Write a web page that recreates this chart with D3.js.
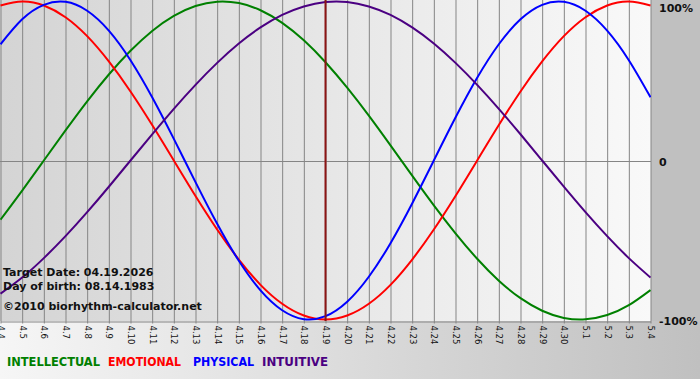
<!DOCTYPE html>
<html>
<head>
<meta charset="utf-8">
<script src="https://cdn.jsdelivr.net/npm/d3@7"></script>
<style>
  html, body { margin: 0; padding: 0; background: #fff; }
  svg { display: block; }
</style>
</head>
<body>
<div id="chart"></div>
<script>
// days shown on the x axis (4.4 .. 5.4)
const dayLabels = ['4.4', '4.5', '4.6', '4.7', '4.8', '4.9', '4.10', '4.11', '4.12', '4.13', '4.14',
  '4.15', '4.16', '4.17', '4.18', '4.19', '4.20', '4.21', '4.22', '4.23', '4.24', '4.25', '4.26',
  '4.27', '4.28', '4.29', '4.30', '5.1', '5.2', '5.3', '5.4'];

// daily values, one per day label
const intellectual = [-0.372, -0.189, 0.000, 0.189, 0.372, 0.541, 0.690, 0.815, 0.910, 0.972, 0.999,
  0.990, 0.945, 0.866, 0.756, 0.618, 0.458, 0.282, 0.095, -0.095, -0.282, -0.458, -0.618, -0.756,
  -0.866, -0.945, -0.990, -0.999, -0.972, -0.910, -0.815];
const emotional = [0.975, 1.000, 0.975, 0.901, 0.782, 0.623, 0.434, 0.223, 0.000, -0.223, -0.434,
  -0.623, -0.782, -0.901, -0.975, -1.000, -0.975, -0.901, -0.782, -0.623, -0.434, -0.223, 0.000,
  0.223, 0.434, 0.623, 0.782, 0.901, 0.975, 1.000, 0.975];
const physical = [0.731, 0.888, 0.979, 0.998, 0.942, 0.817, 0.631, 0.398, 0.136, -0.136, -0.398,
  -0.631, -0.817, -0.942, -0.998, -0.979, -0.888, -0.731, -0.520, -0.270, 0.000, 0.270, 0.520,
  0.731, 0.888, 0.979, 0.998, 0.942, 0.817, 0.631, 0.398];
const intuitive = [-0.837, -0.736, -0.614, -0.476, -0.325, -0.165, 0.000, 0.165, 0.325, 0.476, 0.614,
  0.736, 0.837, 0.916, 0.969, 0.997, 0.997, 0.969, 0.916, 0.837, 0.736, 0.614, 0.476, 0.325,
  0.165, 0.000, -0.165, -0.325, -0.476, -0.614, -0.736];

const valueTicks = [1, 0, -1];
const valueLabels = ['100%', '0', '-100%'];
const targetIndex = 15;

const infoLines = ['Target Date: 04.19.2026', 'Day of birth: 08.14.1983', '\u00a92010 biorhythm-calculator.net'];

const seriesNames = ['INTELLECTUAL', 'EMOTIONAL', 'PHYSICAL', 'INTUITIVE'];
const seriesValues = [intellectual, emotional, physical, intuitive];
const seriesColors = ['#008000', '#ff0000', '#0000ff', '#4b0082'];

// settings
const width = 700;
const height = 380;
const plotW = 650;
const plotH = 321;
const gridColor = '#858585';
const font = '"DejaVu Sans", Tahoma, sans-serif';

const svg = d3.select('#chart')
  .append('svg')
  .attr('width', width)
  .attr('height', height);

const defs = svg.append('defs');
const plotGrad = defs.append('linearGradient').attr('id', 'plotBg');
plotGrad.append('stop').attr('offset', '0%').attr('stop-color', '#d4d4d4');
plotGrad.append('stop').attr('offset', '100%').attr('stop-color', '#f9f9f9');
const footGrad = defs.append('linearGradient').attr('id', 'footBg');
footGrad.append('stop').attr('offset', '0%').attr('stop-color', '#f6f6f6');
footGrad.append('stop').attr('offset', '100%').attr('stop-color', '#c0c0c0');
defs.append('clipPath').attr('id', 'plotClip')
  .append('rect').attr('width', plotW + 1).attr('height', plotH);

// backgrounds
svg.append('rect').attr('width', width).attr('height', 379).attr('fill', '#c0c0c0');
svg.append('rect').attr('y', plotH).attr('width', width).attr('height', 379 - plotH).attr('fill', 'url(#footBg)');
svg.append('rect').attr('width', plotW + 1).attr('height', plotH).attr('fill', 'url(#plotBg)');

const x = d3.scaleLinear().domain([0, dayLabels.length - 1]).range([0.5, plotW + 0.5]);
const y = d3.scaleLinear().domain([-1, 1]).range([319.5, 1.5]);

// vertical grid + day labels
const xAxis = svg.append('g')
  .attr('transform', `translate(0, ${plotH + 0.5})`)
  .call(d3.axisBottom(x)
    .tickValues(d3.range(dayLabels.length))
    .tickFormat(i => dayLabels[i])
    .tickSizeInner(-plotH)
    .tickSizeOuter(0));
xAxis.select('.domain').attr('stroke', gridColor);
xAxis.selectAll('.tick line').attr('stroke', gridColor).attr('y2', -plotH - 1).attr('y1', 2);
xAxis.selectAll('.tick text')
  .attr('transform', 'rotate(90)')
  .attr('x', 4)
  .attr('y', 0)
  .attr('dy', '0.36em')
  .attr('text-anchor', 'start')
  .attr('fill', '#111')
  .style('font-family', font)
  .style('font-size', '8.5px');

// zero line
svg.append('line')
  .attr('x1', 0).attr('x2', plotW + 1)
  .attr('y1', Math.round(y(0)) + 0.5).attr('y2', Math.round(y(0)) + 0.5)
  .attr('stroke', gridColor);

// curves
const line = d3.line()
  .x((d, i) => x(i))
  .y(d => y(d))
  .curve(d3.curveNatural);

svg.append('g')
  .attr('clip-path', 'url(#plotClip)')
  .selectAll('path')
  .data(seriesValues)
  .join('path')
  .attr('d', d => line(d))
  .attr('fill', 'none')
  .attr('stroke', (d, i) => seriesColors[i])
  .attr('stroke-width', 2);

// target day marker
svg.append('line')
  .attr('x1', x(targetIndex)).attr('x2', x(targetIndex))
  .attr('y1', 0).attr('y2', plotH)
  .attr('stroke', '#8b1414')
  .attr('stroke-width', 2);

// value labels on the right
svg.append('g')
  .selectAll('text')
  .data(valueTicks)
  .join('text')
  .attr('x', plotW + 9)
  .attr('y', d => Math.max(y(d) + 5, 11.5))
  .attr('fill', '#111')
  .style('font-family', font)
  .style('font-size', '11px')
  .style('font-weight', 'bold')
  .text((d, i) => valueLabels[i]);

// info text
svg.append('g')
  .selectAll('text')
  .data(infoLines)
  .join('text')
  .attr('x', 3)
  .attr('y', (d, i) => [276, 290, 310][i])
  .attr('fill', '#111')
  .style('font-family', font)
  .style('font-size', '11px')
  .style('font-weight', 'bold')
  .text(d => d);

// legend
const legendX = [7, 108, 193, 262];
const legendW = [93, 73, 61, 66];
svg.append('g')
  .selectAll('text')
  .data(seriesNames)
  .join('text')
  .attr('x', (d, i) => legendX[i])
  .attr('y', 366)
  .attr('textLength', (d, i) => legendW[i])
  .attr('lengthAdjust', 'spacingAndGlyphs')
  .attr('fill', (d, i) => seriesColors[i])
  .style('font-family', font)
  .style('font-stretch', 'condensed')
  .style('font-size', '12px')
  .style('font-weight', 'bold')
  .text(d => d);
</script>
</body>
</html>
